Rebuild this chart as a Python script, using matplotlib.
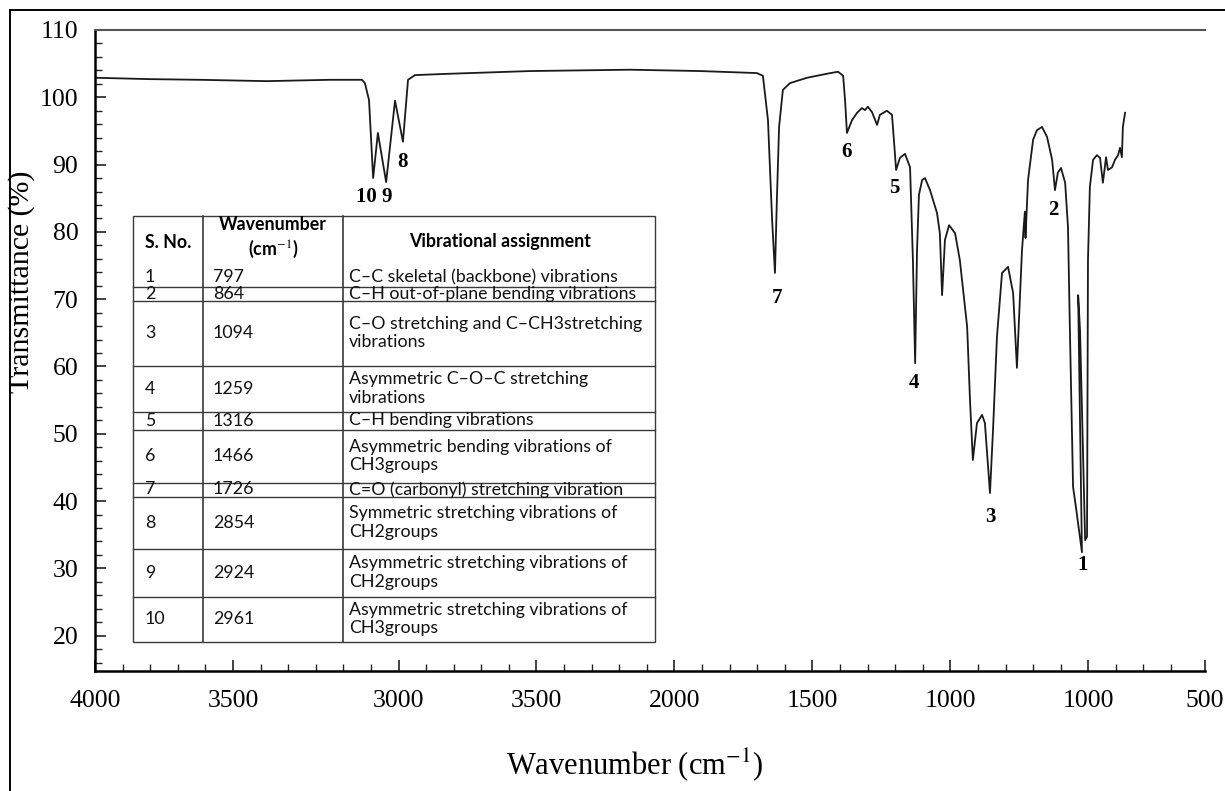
import numpy as np
import matplotlib
matplotlib.use("Agg")
import matplotlib.pyplot as plt
from matplotlib.lines import Line2D

# ---------------- data ----------------
# spectrum trace (nominal wavenumber on the drawn axis, transmittance %)
wn = [3997, 3827, 3669, 3458, 3259, 3158, 3149, 3136, 3123, 3108, 3082, 3054,
      3029, 3013, 2991, 2881, 2628, 2313, 2092, 1913, 1894, 1878, 1865, 1856,
      1850, 1843, 1831, 1809, 1755, 1692, 1657, 1641, 1635, 1629, 1613, 1597,
      1582, 1572, 1563, 1550, 1534, 1525, 1503, 1487, 1481, 1474, 1462, 1446,
      1430, 1421, 1414, 1408, 1402, 1392, 1383, 1367, 1345, 1336, 1329, 1320,
      1307, 1288, 1273, 1250, 1241, 1232, 1219, 1203, 1194, 1178, 1168, 1156,
      1140, 1121, 1105, 1093, 1083, 1077, 1068, 1066, 1058, 1042, 1030, 1014,
      998, 982, 973, 964, 954, 941, 932, 926, 916, 907, 888, 900, 894, 878,
      872, 869, 863, 853, 841, 831, 822, 812, 806, 793, 784, 774, 768, 762,
      759, 752]
tr = [102.9, 102.7, 102.6, 102.4, 102.6, 102.6, 102.1, 99.6, 88.0, 94.7, 87.4, 99.5,
      93.4, 102.6, 103.3, 103.5, 103.9, 104.1, 103.9, 103.6, 103.2, 96.6, 81.8, 73.9,
      84.7, 95.6, 101.1, 102.1, 102.9, 103.5, 103.8, 103.2, 99.6, 94.7, 96.6, 97.7,
      98.4, 98.1, 98.6, 97.8, 95.9, 97.4, 98.0, 97.4, 93.7, 89.2, 91.0, 91.6,
      89.6, 75.8, 60.5, 77.3, 85.5, 87.7, 88.0, 86.2, 82.8, 79.8, 70.6, 78.8,
      81.0, 79.8, 75.8, 65.9, 55.0, 46.1, 51.6, 52.8, 51.6, 41.2, 51.0, 64.4,
      73.9, 74.8, 70.9, 59.8, 70.9, 77.3, 83.0, 79.1, 87.7, 93.7, 95.1, 95.6,
      94.1, 90.7, 86.2, 88.8, 89.5, 87.3, 80.7, 65.4, 42.1, 39.1, 32.4, 70.6, 65.4, 34.2,
      34.7, 75.8, 86.7, 90.7, 91.4, 91.0, 87.3, 91.1, 89.2, 89.6, 90.7, 91.4, 92.5, 91.1,
      95.6, 97.7]

# peak numbers and where they sit
peak_names = ["10 9", "8", "7", "6", "5", "4", "3", "2", "1"]
peak_wn = [3120, 3029, 1850, 1629, 1481, 1418, 1178, 979, 885]
peak_tr = [85.2, 90.4, 70.2, 91.9, 86.5, 57.5, 37.6, 83.3, 30.5]

# axis ticks as printed on the original
xtick_pos = [4000, 3565, 3043, 2608, 2173, 1738, 1303, 868, 500]
xtick_labels = ["4000", "3500", "3000", "3500", "2000", "1500", "1000", "1000", "500"]
yticks = [20, 30, 40, 50, 60, 70, 80, 90, 100, 110]

# inset table
s_no = ["1", "2", "3", "4", "5", "6", "7", "8", "9", "10"]
wavenumbers = ["797", "864", "1094", "1259", "1316", "1466", "1726", "2854", "2924", "2961"]
assignments = [
    "C\u2013C skeletal (backbone) vibrations",
    "C\u2013H out-of-plane bending vibrations",
    "C\u2013O stretching and C\u2013CH3stretching\nvibrations",
    "Asymmetric C\u2013O\u2013C stretching\nvibrations",
    "C\u2013H bending vibrations",
    "Asymmetric bending vibrations of\nCH3groups",
    "C=O (carbonyl) stretching vibration",
    "Symmetric stretching vibrations of\nCH2groups",
    "Asymmetric stretching vibrations of\nCH2groups",
    "Asymmetric stretching vibrations of\nCH3groups",
]

# ---------------- figure ----------------
W, H = 1225, 791
plt.rcParams['mathtext.fontset'] = 'stix'
fig = plt.figure(figsize=(W / 100, H / 100), dpi=100)
fig.patch.set_facecolor('white')

def fx(px):
    return px / W

def fy(py):
    return 1 - py / H

ax = fig.add_axes([fx(95), fy(671), fx(1205) - fx(95), fy(30) - fy(671)])
ax.plot(wn, tr, color='#1a1a1a', lw=1.3)
ax.set_xlim(4000, 500)
ax.set_ylim(14.75, 110)

serif = 'Liberation Serif'
for name, x, y in zip(peak_names, peak_wn, peak_tr):
    ax.text(x, y, name, ha='center', va='center', fontsize=15,
            fontweight='bold', family=serif)

ax.set_xticks(xtick_pos)
ax.set_xticklabels(xtick_labels)
minor_x = [4000 - 87 * k for k in range(1, 40) if 4000 - 87 * k not in xtick_pos]
ax.set_xticks(minor_x, minor=True)
ax.set_yticks(yticks)
ax.set_yticks(np.arange(16, 110, 2), minor=True)
ax.tick_params(which='both', direction='in', color='#222')
ax.tick_params(which='major', length=8, width=1.2)
ax.tick_params(which='minor', length=5, width=1.0)
ax.tick_params(axis='x', which='major', pad=14)
ax.tick_params(axis='y', which='major', pad=12)
for lab in ax.get_xticklabels() + ax.get_yticklabels():
    lab.set_family(serif)
    lab.set_fontsize(18.5)

ax.spines['right'].set_visible(False)
ax.spines['top'].set_color('#555555')
ax.spines['top'].set_linewidth(1.5)
for s in ['left', 'bottom']:
    ax.spines[s].set_color('black')
    ax.spines[s].set_linewidth(1.8)

ax.set_xlabel("Wavenumber (cm$^{-1}$)", family=serif, fontsize=22, va='center')
ax.xaxis.set_label_coords((635 - 95) / 1110, (671 - 765) / 641)
ax.set_ylabel("Transmittance (%)", family=serif, fontsize=21.5, va='center')
ax.yaxis.set_label_coords((22 - 95) / 1110, (671 - 282) / 641)

# outer frame (left and top edges only)
fig.add_artist(Line2D([fx(10), fx(10)], [0, fy(10)], color='black', lw=1.4))
fig.add_artist(Line2D([fx(10), 1], [fy(10), fy(10)], color='black', lw=1.4))

# ---------------- inset table ----------------
col_x = [133, 203, 343, 655]
row_y = [216, 287, 301, 366, 412, 430, 483, 497, 549, 597, 642]
tfont = 'Lato'
tsize = 12.8
line_col = '#3a3a3a'

fig.add_artist(plt.Rectangle((fx(col_x[0]), fy(row_y[-1])), fx(col_x[-1]) - fx(col_x[0]),
                             fy(row_y[0]) - fy(row_y[-1]), facecolor='white',
                             edgecolor=line_col, lw=1.0))
for cx in col_x[1:-1]:
    fig.add_artist(Line2D([fx(cx), fx(cx)], [fy(row_y[0]), fy(row_y[-1])],
                          color=line_col, lw=1.2))
for ry in row_y[1:-1]:
    fig.add_artist(Line2D([fx(col_x[0]), fx(col_x[-1])], [fy(ry), fy(ry)],
                          color=line_col, lw=1.0))

# header
fig.text(fx(168), fy(242), "S. No.", ha='center', va='center', family=tfont,
         fontsize=tsize, fontweight='bold')
fig.text(fx(273), fy(238), "Wavenumber\n(cm$^{-1}$)", ha='center', va='center',
         family=tfont, fontsize=tsize, fontweight='bold', linespacing=1.25)
fig.text(fx(500), fy(242), "Vibrational assignment", ha='center', va='center',
         family=tfont, fontsize=tsize, fontweight='bold')

text_x = [145, 213, 349]
for i in range(len(s_no)):
    if i == 0:
        yc = 277
    else:
        yc = (row_y[i] + row_y[i + 1]) / 2 - 0.5
    for tx, val in zip(text_x, [s_no[i], wavenumbers[i], assignments[i]]):
        fig.text(fx(tx), fy(yc), val, ha='left', va='center', family=tfont,
                 fontsize=tsize, color='#111', linespacing=1.2)

fig.savefig("out.png", dpi=100, facecolor='white')
